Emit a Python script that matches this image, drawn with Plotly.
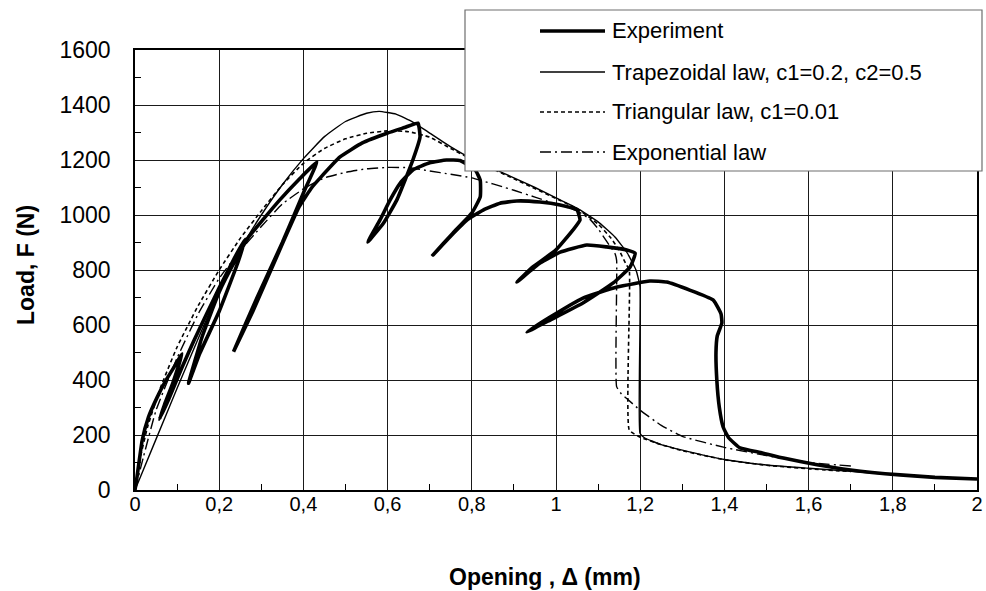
import plotly.graph_objects as go

# ---------------- data ----------------
exp_x = [0, 0.005, 0.017, 0.032, 0.052, 0.072, 0.096, 0.112, 0.09, 0.07, 0.058,
         0.08, 0.11, 0.139, 0.17, 0.2, 0.235, 0.261, 0.245, 0.2, 0.154, 0.127,
         0.16, 0.2, 0.24, 0.27, 0.305, 0.344, 0.39, 0.432,
         0.40, 0.35, 0.29, 0.234,
         0.28, 0.34, 0.39, 0.42, 0.44, 0.487, 0.54, 0.6, 0.64, 0.672,
         0.677, 0.66, 0.622, 0.59, 0.553,
         0.582, 0.606, 0.63, 0.66, 0.70, 0.74, 0.772, 0.808, 0.82,
         0.82, 0.80, 0.755, 0.708,
         0.748, 0.789, 0.827, 0.867, 0.907, 0.962, 1.01, 1.05,
         1.057, 1.04, 1.0, 0.945, 0.907,
         0.962, 1.01, 1.073, 1.12, 1.168, 1.188,
         1.176, 1.136, 1.064, 0.986, 0.931,
         0.986, 1.064, 1.145, 1.223, 1.263, 1.373, 1.392, 1.394, 1.383, 1.380,
         1.382, 1.388, 1.397, 1.41, 1.437, 1.49, 1.54, 1.62, 1.70, 1.817, 1.9, 2.0]
exp_y = [0, 50, 180, 265, 335, 395, 455, 495, 390, 310, 257,
         330, 440, 540, 640, 735, 840, 912, 830, 650, 497, 388,
         560, 720, 840, 920, 985, 1055, 1130, 1193,
         1080, 900, 700, 503,
         650, 860, 1030, 1100, 1135, 1211, 1262, 1298, 1318, 1334,
         1284, 1200, 1055, 970, 902,
         982, 1055, 1116, 1164, 1190, 1200, 1198, 1164, 1127,
         1066, 1007, 934, 855,
         920, 982, 1018, 1043, 1051, 1047, 1036, 1018,
         982, 945, 873, 811, 756,
         825, 865, 891, 884, 873, 861,
         811, 753, 680, 618, 575,
         629, 698, 738, 760, 756, 691, 640, 607, 560, 500,
         400, 300, 229, 190, 153, 135, 116, 92, 73, 55, 46, 40]

trap_x = [0, 0.05, 0.1, 0.15, 0.2, 0.25, 0.3, 0.35, 0.4, 0.45, 0.5, 0.55, 0.58,
          0.62, 0.66, 0.7, 0.75, 0.8, 0.85, 0.9, 0.95, 1.0, 1.05, 1.1, 1.14,
          1.17, 1.19, 1.1995, 1.1995, 1.21, 1.25, 1.3, 1.4, 1.5, 1.6, 1.7, 1.8,
          1.9, 2.0]
trap_y = [0, 185, 370, 550, 725, 875, 1000, 1110, 1205, 1285, 1340, 1370, 1377,
          1367, 1338, 1298, 1248, 1205, 1170, 1135, 1100, 1062, 1025, 975, 920,
          860, 800, 740, 206, 190, 165, 145, 111, 91, 79, 68, 56, 47, 40]

tri_x = [0, 0.01, 0.03, 0.06, 0.1, 0.15, 0.2, 0.25, 0.3, 0.35, 0.4, 0.45, 0.5,
         0.55, 0.6, 0.65, 0.7, 0.75, 0.8, 0.9, 1.0, 1.05, 1.1, 1.13, 1.15,
         1.165, 1.174, 1.174, 1.2, 1.25, 1.3, 1.4, 1.5, 1.6, 1.7]
tri_y = [0, 100, 230, 370, 520, 670, 800, 915, 1015, 1110, 1188, 1242, 1277,
         1297, 1306, 1303, 1283, 1242, 1202, 1132, 1060, 1023, 967, 917, 872,
         825, 800, 218, 192, 165, 143, 110, 90, 77, 67]

expo_x = [0, 0.02, 0.05, 0.1, 0.15, 0.2, 0.25, 0.3, 0.35, 0.4, 0.45, 0.5, 0.55,
          0.6, 0.65, 0.7, 0.75, 0.8, 0.9, 0.95, 1.0, 1.05, 1.08, 1.1, 1.12,
          1.14, 1.144, 1.144, 1.155, 1.17, 1.2, 1.25, 1.3, 1.4, 1.5, 1.6, 1.703]
expo_y = [0, 120, 290, 480, 640, 770, 870, 958, 1040, 1095, 1135, 1155, 1168,
          1173, 1172, 1160, 1148, 1135, 1090, 1065, 1040, 1015, 985, 950, 905,
          860, 835, 376, 350, 330, 290, 235, 195, 155, 125, 100, 87]

series_names = ["Experiment", "Trapezoidal law, c1=0.2, c2=0.5",
                "Triangular law, c1=0.01", "Exponential law"]

x_tickvals = [0, 0.2, 0.4, 0.6, 0.8, 1.0, 1.2, 1.4, 1.6, 1.8, 2.0]
x_ticktext = ["0", "0,2", "0,4", "0,6", "0,8", "1", "1,2", "1,4", "1,6", "1,8", "2"]
y_tickvals = [0, 200, 400, 600, 800, 1000, 1200, 1400, 1600]
y_ticktext = ["0", "200", "400", "600", "800", "1000", "1200", "1400", "1600"]
x_minor = [0.1, 0.3, 0.5, 0.7, 0.9, 1.1, 1.3, 1.5, 1.7, 1.9]
y_minor = [100, 300, 500, 700, 900, 1100, 1300, 1500]

x_title = "Opening , Δ (mm)"
y_title = "Load, F (N)"

# ---------------- styles ----------------
styles = [
    dict(width=3.6, dash="solid"),
    dict(width=1.4, dash="solid"),
    dict(width=1.6, dash="4px,3px"),
    dict(width=1.4, dash="11px,4px,2px,4px"),
]
FONT = "Liberation Sans, Arial"

fig = go.Figure()
for (xs, ys), name, st in zip([(exp_x, exp_y), (trap_x, trap_y), (tri_x, tri_y),
                               (expo_x, expo_y)], series_names, styles):
    fig.add_trace(go.Scatter(x=xs, y=ys, mode="lines", name=name,
                             line=dict(color="black", width=st["width"], dash=st["dash"],
                                       shape="spline", smoothing=0.4),
                             showlegend=False))

# plot area in pixels
L, R, T, B = 135, 977, 50, 490
W, H = 986, 591
def px2paper(px, py):
    return (px - L) / (R - L), (B - py) / (B - T)

shapes = []
# legend box
x0, y0 = px2paper(465, 171)
x1, y1 = px2paper(982, 10)
shapes.append(dict(type="rect", xref="paper", yref="paper", x0=x0, y0=y0, x1=x1, y1=y1,
                   line=dict(color="#6e6e6e", width=1.2), fillcolor="white", layer="above"))
annotations = []
rows = [31, 72, 112, 152]
for name, st, ry in zip(series_names, styles, rows):
    lx0, ly = px2paper(540, ry)
    lx1, _ = px2paper(605, ry)
    shapes.append(dict(type="line", xref="paper", yref="paper", x0=lx0, x1=lx1, y0=ly, y1=ly,
                       line=dict(color="black", width=st["width"], dash=st["dash"]),
                       layer="above"))
    tx, _ = px2paper(610, ry)
    annotations.append(dict(xref="paper", yref="paper", x=tx, y=ly, text=name,
                            showarrow=False, xanchor="left", yanchor="middle",
                            font=dict(family=FONT, size=22, color="black")))

ax_x, ax_y = px2paper(545, 577)
annotations.append(dict(xref="paper", yref="paper", x=ax_x, y=ax_y, text="<b>" + x_title + "</b>",
                        showarrow=False, xanchor="center", yanchor="middle",
                        font=dict(family=FONT, size=23, color="black")))
ay_x, ay_y = px2paper(26, 265)
annotations.append(dict(xref="paper", yref="paper", x=ay_x, y=ay_y, text="<b>" + y_title + "</b>",
                        showarrow=False, xanchor="center", yanchor="middle", textangle=-90,
                        font=dict(family=FONT, size=23, color="black")))

fig.update_layout(
    width=W, height=H,
    margin=dict(l=L, r=W - R, t=T, b=H - B),
    paper_bgcolor="white", plot_bgcolor="white",
    shapes=shapes, annotations=annotations,
    showlegend=False,
    xaxis=dict(range=[0, 2], tickvals=x_tickvals, ticktext=x_ticktext,
               automargin=False,
               showgrid=True, gridcolor="#1a1a1a", gridwidth=1,
               showline=True, linecolor="black", linewidth=1.5, mirror=True,
               ticks="", ticklabelstandoff=-5,
               tickfont=dict(family=FONT, size=20, color="black"),
               zeroline=False,
               minor=dict(tickvals=x_minor, ticks="inside", ticklen=6, tickcolor="black",
                          tickwidth=1, showgrid=False)),
    yaxis=dict(range=[0, 1600], tickvals=y_tickvals, ticktext=y_ticktext,
               automargin=False,
               showgrid=True, gridcolor="#1a1a1a", gridwidth=1,
               showline=True, linecolor="black", linewidth=1.5, mirror=True,
               ticks="outside", ticklen=18, tickcolor="rgba(0,0,0,0)",
               tickfont=dict(family=FONT, size=23, color="black"),
               zeroline=False,
               minor=dict(tickvals=y_minor, ticks="inside", ticklen=6, tickcolor="black",
                          tickwidth=1, showgrid=False)),
)

fig.write_html("out.html")
